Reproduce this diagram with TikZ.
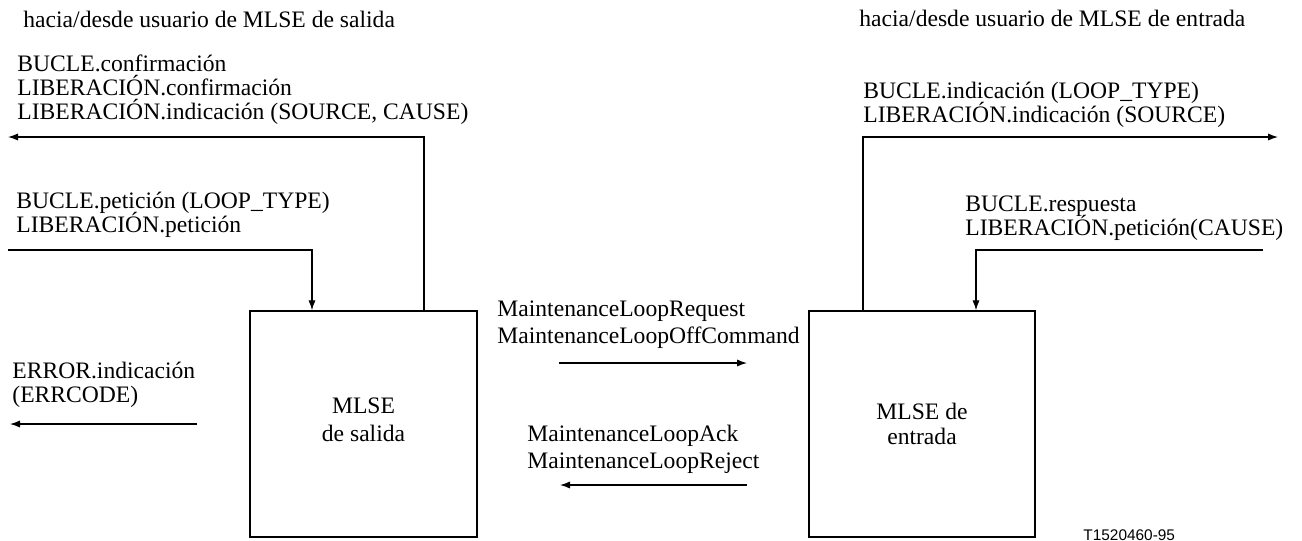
\documentclass[tikz,border=0pt]{standalone}
\usepackage{fontspec}
\setmainfont{Liberation Serif}
\newfontfamily\figsans{Liberation Sans}
\usetikzlibrary{arrows.meta}
\newcommand\mytightlines{\lineskiplimit=-100pt\relax\lineskip=0pt\relax}
\begin{document}
\begin{tikzpicture}[x=0.5pt,y=-0.5pt,
  arr/.style={line width=0.6pt,-{Latex[length=5pt,width=3.6pt]}},
  lbl/.style={anchor=base west,inner sep=0pt,align=left,font=\fontsize{11.8pt}{12pt}\selectfont\mytightlines},
  mlse/.style={draw,line width=0.7pt,align=center,inner sep=0pt,font=\fontsize{11.8pt}{14pt}\selectfont\mytightlines},
]
\useasboundingbox (0,0) rectangle (1302,541);

% boxes
\node[mlse,minimum width=113.5pt,minimum height=113pt] (out) at (363.5,424) {MLSE\\de salida\\[-10pt]};
\node[mlse,minimum width=113pt,minimum height=113pt] (in) at (922,424) {MLSE de\\[-1.5pt]entrada};

% headings
\node[lbl] (h1) at (23,27) {hacia/desde usuario de MLSE de salida};
\node[lbl] (h2) at (859,26) {hacia/desde usuario de MLSE de entrada};

% left labels
\node[lbl] (l1) at (17,119) {BUCLE.confirmación\\LIBERACIÓN.confirmación\\LIBERACIÓN.indicación (SOURCE, CAUSE)};
\node[lbl] (l2) at (16,232) {BUCLE.petición (LOOP\_TYPE)\\LIBERACIÓN.petición};
\node[lbl] (l3) at (12,402) {ERROR.indicación\\(ERRCODE)};

% middle labels
\node[lbl] (m1) at (497,343) {MaintenanceLoopRequest\\[1.5pt]MaintenanceLoopOffCommand};
\node[lbl] (m2) at (527,468) {MaintenanceLoopAck\\[1.5pt]MaintenanceLoopReject};

% right labels
\node[lbl] (r1) at (863,122) {BUCLE.indicación (LOOP\_TYPE)\\LIBERACIÓN.indicación (SOURCE)};
\node[lbl] (r2) at (965,235) {BUCLE.respuesta\\LIBERACIÓN.petición(CAUSE)};

% figure id
\node[anchor=base west,inner sep=0pt,font=\figsans\fontsize{7.7pt}{9pt}\selectfont] (id) at (1083,540) {T1520460-95};

% connector coordinates
\coordinate (c1) at (424,137);
\coordinate (e1) at (8,137);
\coordinate (s2) at (8,250);
\coordinate (c2) at (312,250);
\coordinate (s3) at (197,424);
\coordinate (e3) at (10,424);
\coordinate (s4) at (559,363);
\coordinate (e4) at (747,363);
\coordinate (s5) at (747,485);
\coordinate (e5) at (560,485);
\coordinate (c6) at (863,137);
\coordinate (e6) at (1278,137);
\coordinate (s7) at (1263,250);
\coordinate (c7) at (976,250);

% connectors
\draw[arr] (out.north -| c1) -- (c1) -- (e1);
\draw[arr] (s2) -- (c2) -- (c2 |- out.north);
\draw[arr] (s3) -- (e3);
\draw[arr] (s4) -- (e4);
\draw[arr] (s5) -- (e5);
\draw[arr] (in.north -| c6) -- (c6) -- (e6);
\draw[arr] (s7) -- (c7) -- (c7 |- in.north);
\end{tikzpicture}
\end{document}
